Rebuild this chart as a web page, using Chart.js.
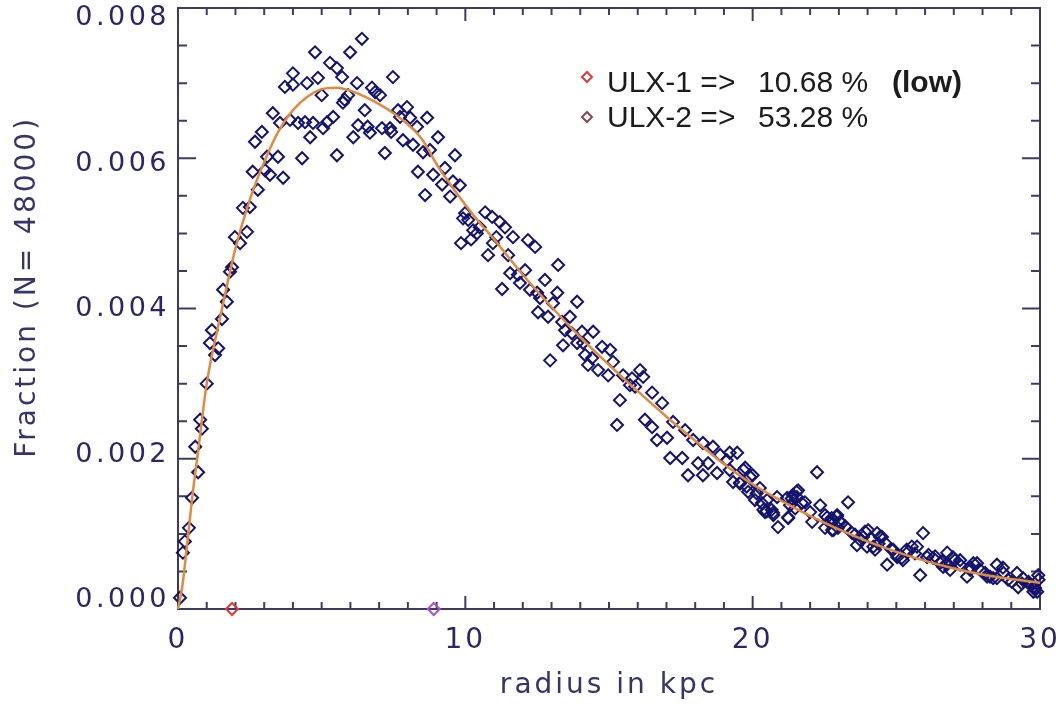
<!DOCTYPE html>
<html>
<head>
<meta charset="utf-8">
<script src="https://cdn.jsdelivr.net/npm/chart.js@4.4.1/dist/chart.umd.min.js"></script>
<style>
  html, body { margin: 0; background: #fff; }
  #wrap { width: 1062px; height: 706px; }
</style>
</head>
<body>
<div id="wrap"><canvas id="chart" width="1062" height="706"></canvas></div>
<script>
// simulated radial distribution (fraction values in units of 1e-3)
const radius = [
  0.07, 0.17, 0.24, 0.38, 0.49, 0.6, 0.7, 0.77, 0.83, 1.0,
  1.11, 1.18, 1.29, 1.4, 1.53, 1.57, 1.7, 1.81, 1.88, 1.98,
  2.16, 2.26, 2.4, 2.5, 2.6, 2.68, 2.78, 2.92, 3.03, 3.1,
  3.2, 3.3, 3.48, 3.55, 3.66, 3.72, 3.9, 4.0, 4.0, 4.18,
  4.32, 4.42, 4.49, 4.6, 4.7, 4.77, 4.87, 5.0, 5.05, 5.19,
  5.29, 5.4, 5.53, 5.53, 5.71, 5.74, 5.8, 5.92, 5.99, 6.1,
  6.23, 6.27, 6.4, 6.5, 6.6, 6.68, 6.75, 6.86, 7.03, 7.1,
  7.2, 7.38, 7.42, 7.48, 7.66, 7.73, 7.83, 7.97, 8.08, 8.18,
  8.32, 8.35, 8.53, 8.6, 8.67, 8.77, 8.88, 9.05, 9.19, 9.29,
  9.47, 9.57, 9.64, 9.81, 9.85, 9.92, 9.99, 10.1, 10.2, 10.27,
  10.4, 10.5, 10.69, 10.79, 10.93, 10.96, 11.08, 11.2, 11.28, 11.38,
  11.49, 11.56, 11.66, 11.83, 11.9, 12.08, 12.18, 12.25, 12.43, 12.5,
  12.53, 12.6, 12.77, 12.88, 12.95, 13.05, 13.2, 13.23, 13.37, 13.4,
  13.47, 13.64, 13.71, 13.89, 13.89, 14.06, 14.1, 14.17, 14.27, 14.41,
  14.45, 14.62, 14.76, 14.97, 15.04, 15.14, 15.28, 15.38, 15.49, 15.73,
  15.8, 15.91, 16.08, 16.19, 16.25, 16.5, 16.5, 16.67, 16.85, 17.02,
  17.13, 17.23, 17.55, 17.65, 17.75, 17.93, 18.1, 18.27, 18.27, 18.45,
  18.62, 18.76, 18.87, 19.1, 19.2, 19.2, 19.32, 19.46, 19.56, 19.74,
  19.84, 20.0, 20.08, 20.25, 20.43, 20.5, 20.71, 20.85, 20.88, 21.2,
  21.23, 21.3, 21.4, 21.54, 21.58, 21.82, 22.0, 22.07, 22.24, 22.35,
  22.52, 22.59, 22.76, 22.8, 22.94, 22.97, 23.1, 23.32, 23.46, 23.63,
  23.84, 23.98, 24.02, 24.26, 24.33, 24.5, 24.61, 24.68, 24.89, 25.03,
  25.23, 25.41, 25.72, 25.83, 25.93, 26.07, 26.28, 26.52, 26.63, 26.77,
  26.87, 26.97, 27.22, 27.46, 27.57, 27.81, 27.92, 28.16, 28.37, 28.5,
  28.71, 28.89, 29.2, 29.24, 29.41, 29.6, 29.76, 29.9, 29.94,
  // dense band of the outer tail
  19.68, 19.91, 19.56, 19.79, 20.14, 20.32, 20.49, 20.66, 20.72, 20.37,
  21.36, 21.53, 21.71, 21.48, 21.24, 22.52, 22.64, 22.75, 22.93, 23.04,
  23.22, 22.81, 23.56, 23.74, 23.91, 24.14, 24.38, 24.43, 24.2, 24.84,
  25.01, 25.19, 25.36, 25.54, 25.65, 26.12, 26.35, 26.58, 26.76, 27.04,
  27.22, 27.57, 27.68, 28.09, 28.26, 28.5, 28.73, 29.02, 29.37, 29.66,
  29.83, 29.95, 29.77
];
const fraction = [
  0.15, 0.75, 0.9, 1.08, 1.48, 2.16, 1.82, 2.52, 2.4, 3.0,
  3.54, 3.71, 3.38, 3.47, 3.86, 4.25, 4.09, 4.49, 4.55, 4.95,
  4.87, 5.34, 5.02, 5.35, 5.82, 6.22, 5.58, 6.35, 5.84, 6.02,
  5.78, 6.6, 6.02, 6.47, 5.74, 6.95, 6.51, 6.98, 7.13, 6.47,
  6.0, 6.48, 7.0, 6.28, 6.47, 7.41, 7.07, 6.84, 6.4, 6.48,
  7.27, 6.55, 6.04, 7.2, 7.08, 6.74, 6.78, 6.84, 7.41, 6.28,
  7.0, 6.44, 7.59, 6.64, 6.42, 6.34, 6.94, 6.88, 6.84, 6.4,
  6.07, 6.4, 6.35, 7.08, 6.64, 6.55, 6.24, 6.68, 6.54, 6.18,
  6.42, 5.82, 6.08, 5.51, 6.54, 6.11, 5.78, 6.28, 5.65, 5.87,
  5.49, 5.69, 6.04, 5.64, 4.87, 5.2, 5.27, 5.18, 4.92, 5.04,
  5.0, 5.08, 5.28, 4.71, 5.22, 4.87, 4.95, 5.15, 4.26, 5.08,
  4.71, 4.47, 4.95, 4.45, 4.34, 4.51, 4.91, 4.25, 4.82, 4.21,
  3.95, 4.14, 4.38, 3.89, 3.31, 4.07, 4.21, 4.58, 3.82, 3.51,
  3.71, 3.89, 3.67, 4.09, 3.54, 3.69, 3.54, 3.38, 3.25, 3.34,
  3.69, 3.18, 3.49, 3.11, 3.45, 3.29, 2.45, 2.78, 3.11, 2.98,
  3.07, 2.96, 3.18, 3.09, 2.52, 2.88, 2.42, 2.25, 2.74, 2.28,
  2.01, 2.49, 2.01, 2.38, 1.78, 2.25, 1.94, 2.21, 1.78, 1.94,
  2.16, 1.81, 2.05, 1.98, 2.08, 1.85, 1.69, 2.08, 1.68, 1.88,
  1.56, 1.78, 1.45, 1.61, 1.29, 1.45, 1.28, 1.49, 1.09, 1.48,
  1.22, 1.38, 1.52, 1.49, 1.58, 1.42, 1.29, 1.16, 1.82, 1.38,
  1.08, 1.22, 1.05, 1.18, 1.25, 1.08, 1.14, 1.42, 1.01, 0.85,
  0.96, 0.83, 1.05, 0.79, 1.01, 0.96, 0.88, 0.59, 0.79, 0.69,
  0.65, 0.76, 0.83, 0.45, 1.01, 0.69, 0.68, 0.61, 0.56, 0.75,
  0.52, 0.69, 0.65, 0.43, 0.56, 0.61, 0.52, 0.43, 0.41, 0.59,
  0.55, 0.39, 0.48, 0.29, 0.41, 0.36, 0.29, 0.23, 0.45,
  1.85, 1.76, 1.67, 1.63, 1.54, 1.41, 1.3, 1.32, 1.25, 1.32,
  1.47, 1.56, 1.41, 1.34, 1.21, 1.25, 1.16, 1.21, 1.23, 1.16,
  1.1, 1.05, 0.99, 0.92, 1.03, 0.94, 0.87, 0.96, 0.83, 0.79,
  0.72, 0.68, 0.79, 0.83, 0.74, 0.72, 0.7, 0.63, 0.59, 0.65,
  0.59, 0.52, 0.61, 0.48, 0.43, 0.41, 0.48, 0.36, 0.34, 0.32,
  0.28, 0.39, 0.23
];

// fitted profile (same units)
const fitRadius = [0, 0.15, 0.3, 0.5, 0.7, 1.0, 1.5, 2.0, 2.5, 3.0, 3.5, 4.0, 4.5, 5.0, 5.5,
  6.0, 6.5, 7.0, 7.5, 8.0, 8.5, 9.0, 9.5, 10, 10.5, 11, 12, 13, 14, 15, 16, 17, 18, 19, 20,
  21, 22, 23, 24, 25, 26, 27, 28, 29, 30];
const fitFraction = [0, 0.3, 0.8, 1.5, 2.1, 3.0, 3.94, 4.8, 5.45, 5.95, 6.36, 6.64, 6.82, 6.92, 6.94,
  6.9, 6.82, 6.72, 6.6, 6.45, 6.25, 5.92, 5.64, 5.38, 5.14, 4.92, 4.45, 4.02, 3.62, 3.25, 2.9,
  2.56, 2.24, 1.93, 1.66, 1.44, 1.24, 1.06, 0.9, 0.76, 0.64, 0.54, 0.46, 0.4, 0.35];

const ulxNames = ["ULX-1", "ULX-2"];
const ulxRadius = [1.88, 8.9];
const ulxPercent = ["10.68 %", "53.28 %"];
const ulxNote = ["(low)", ""];

const xTicks = [0, 10, 20, 30];
const yTicks = [0, 0.002, 0.004, 0.006, 0.008];
const yTitle = "Fraction (N= 48000)";

const AXIS = "#3b3b66";
const LABEL = "#27276a";

function pts(xs, ys) {
  return xs.map((x, i) => ({ x, y: ys[i] / 1000 }));
}

const frame = {
  id: "frame",
  beforeDraw(chart) {
    chart.ctx.letterSpacing = "3px";
  },
  beforeDatasetsDraw(chart) {
    const { ctx, chartArea: a, scales: { x, y } } = chart;
    ctx.save();
    ctx.strokeStyle = AXIS;
    ctx.lineWidth = 2;
    ctx.strokeRect(a.left, a.top, a.right - a.left, a.bottom - a.top);
    ctx.beginPath();
    for (let i = 0; i <= 30; i++) {
      const px = x.getPixelForValue(i);
      const len = i % 10 === 0 ? 13 : 7;
      ctx.moveTo(px, a.bottom); ctx.lineTo(px, a.bottom - len);
      ctx.moveTo(px, a.top); ctx.lineTo(px, a.top + len);
    }
    for (let j = 0; j <= 16; j++) {
      const py = y.getPixelForValue(j * 0.0005);
      const len = j % 4 === 0 ? 18 : 9;
      ctx.moveTo(a.left, py); ctx.lineTo(a.left + len, py);
      ctx.moveTo(a.right, py); ctx.lineTo(a.right - len, py);
    }
    ctx.stroke();

    // y tick labels, end labels kept inside the frame height like the original
    ctx.fillStyle = LABEL;
    ctx.font = "27px 'DejaVu Sans'";
    ctx.letterSpacing = "3.5px";
    ctx.textAlign = "right";
    ctx.textBaseline = "middle";
    const h = a.bottom - a.top;
    yTicks.forEach(v => {
      const py = y.getPixelForValue(v);
      const ly = a.top + 10 + (py - a.top) * (h - 19) / h;
      ctx.fillText(v.toFixed(3), a.left - 8, ly);
    });

    // y title
    ctx.fillStyle = "#35356c";
    ctx.font = "28px 'DejaVu Sans'";
    ctx.letterSpacing = "3px";
    ctx.textAlign = "center";
    ctx.translate(28, a.top + h * 0.464);
    ctx.rotate(-Math.PI / 2);
    ctx.fillText(yTitle, 0, 0);
    ctx.restore();
  },
  afterDraw(chart) {
    const { ctx } = chart;
    ctx.save();
    ctx.letterSpacing = "0px";
    const colors = ["#e4383c", "#8a4650"];
    ulxNames.forEach((name, i) => {
      const cy = 77 + i * 40;
      const base = 92 + i * 35;
      ctx.strokeStyle = colors[i];
      ctx.lineWidth = 2;
      ctx.beginPath();
      ctx.moveTo(587, cy - 5); ctx.lineTo(592, cy); ctx.lineTo(587, cy + 5); ctx.lineTo(582, cy);
      ctx.closePath();
      ctx.stroke();
      ctx.fillStyle = "#1c1c1c";
      ctx.textBaseline = "alphabetic";
      ctx.font = "30px 'Liberation Sans', Arial, sans-serif";
      ctx.fillText(name + " =>", 607, base);
      ctx.fillText(ulxPercent[i], 758, base);
      if (ulxNote[i]) {
        ctx.font = "bold 30px 'Liberation Sans', Arial, sans-serif";
        ctx.fillText(ulxNote[i], 892, base);
      }
    });
    ctx.restore();
  }
};

new Chart(document.getElementById("chart"), {
  type: "scatter",
  data: {
    datasets: [
      {
        type: "line",
        data: pts(fitRadius, fitFraction),
        borderColor: "#e3893c",
        borderWidth: 2.5,
        pointRadius: 0,
        cubicInterpolationMode: "monotone",
        fill: false,
        clip: false
      },
      {
        data: ulxRadius.map(x => ({ x, y: 0 })),
        pointStyle: "rectRot",
        pointRadius: 6,
        borderWidth: 2,
        borderColor: ["#e8383a", "#b050d0"],
        backgroundColor: "rgba(0,0,0,0)",
        clip: false
      },
      {
        data: pts(radius, fraction),
        pointStyle: "rectRot",
        pointRadius: 6,
        borderWidth: 2,
        borderColor: "#14146e",
        backgroundColor: "rgba(0,0,0,0)",
        clip: false
      }
    ]
  },
  options: {
    responsive: false,
    animation: false,
    devicePixelRatio: 1,
    layout: { padding: { top: 8, right: 22, left: 0, bottom: 0 } },
    plugins: { legend: { display: false }, tooltip: { enabled: false } },
    scales: {
      x: {
        type: "linear",
        min: 0,
        max: 30,
        afterBuildTicks: s => { s.ticks = xTicks.map(v => ({ value: v })); },
        afterFit: s => { s.height = 97; s.paddingLeft = 0; s.paddingRight = 0; },
        grid: { display: false, drawTicks: false },
        border: { display: false },
        ticks: { color: LABEL, font: { family: "DejaVu Sans", size: 28 }, padding: 15, maxRotation: 0 },
        title: {
          display: true,
          text: "radius in kpc",
          color: "#35356c",
          font: { family: "DejaVu Sans", size: 28 },
          padding: { top: 0, bottom: 3 }
        }
      },
      y: {
        min: 0,
        max: 0.008,
        afterBuildTicks: s => { s.ticks = yTicks.map(v => ({ value: v })); },
        afterFit: s => { s.width = 178; s.paddingTop = 0; s.paddingBottom = 0; },
        grid: { display: false, drawTicks: false },
        border: { display: false },
        ticks: { display: false }
      }
    }
  },
  plugins: [frame]
});
</script>
</body>
</html>
